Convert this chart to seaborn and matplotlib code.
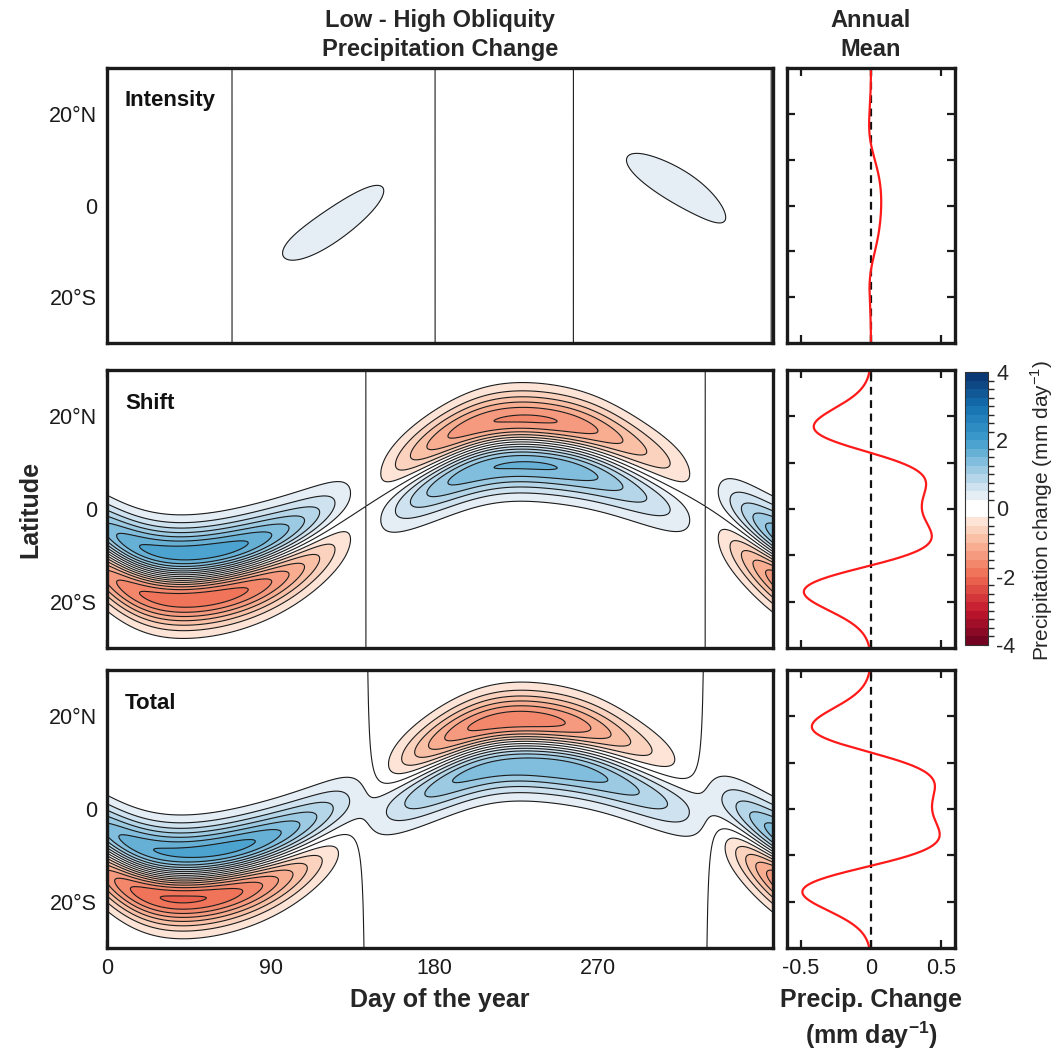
import numpy as np
import pandas as pd
import matplotlib
matplotlib.use("Agg")
import matplotlib.pyplot as plt
from matplotlib.colors import ListedColormap, BoundaryNorm, to_rgb
from matplotlib.cm import ScalarMappable
import seaborn as sns

# ---------------------------------------------------------------------------
# ITCZ description, sampled every 1/12 of a year (day of year)
# ---------------------------------------------------------------------------
sample_day = np.arange(12) * 365.0 / 12.0
# ITCZ centre latitude (deg) for the high- and low-obliquity climates
itcz_lat_high = np.array([-10.2, -15.3, -14.9, -11.3, -4.9, 3.2, 10.4, 14.8, 14.9, 11.9, 6.2, -1.0])
itcz_lat_low = np.array([-8.8, -13.3, -12.9, -9.8, -4.3, 2.9, 9.2, 13.2, 13.3, 10.7, 5.6, -0.8])
# peak ITCZ rain rate (mm/day) of the high-obliquity climate and low-minus-high change
itcz_peak_high = np.array([8.0, 8.0, 8.0, 8.0, 8.0, 8.0, 8.0, 8.0, 8.0, 8.0, 8.0, 8.0])
itcz_peak_change = np.array([0.0, -0.19, -0.07, 0.21, 0.35, 0.25, -0.02, -0.20, -0.11, 0.16, 0.34, 0.29])
itcz_halfwidth = 5.0  # Gaussian std of the rain band (deg latitude)

panel_names = ["Intensity", "Shift", "Total"]
lat_ticks = [-20, 0, 20]
lat_ticklabels = ["20\u00b0S", "0", "20\u00b0N"]
day_ticks = [0, 90, 180, 270]
day_ticks_top = [50, 100, 150, 200, 250, 300, 350]
mean_ticks = [-0.5, 0, 0.5]
mean_ticklabels = ["-0.5", "0", "0.5"]
cbar_ticks = [-4, -2, 0, 2, 4]
cbar_ticklabels = ["-4", "-2", "0", "2", "4"]

# diverging palette anchors (value, colour) used for the 0.25-step filled contours
palette_anchor_value = [-4.0, -3.0, -2.0, -1.0, -0.375, -0.2, 0.2, 0.375, 1.0, 2.0, 3.0, 4.0]
palette_anchor_color = ["#67001f", "#c3172d", "#ee6a50", "#f9b79a", "#fde4d6", "#ffffff",
                        "#ffffff", "#e6eef5", "#a9d0e5", "#3f9dcc", "#1470b0", "#08306b"]


def periodic(values, day):
    """Smooth periodic (trigonometric) curve through evenly spaced yearly samples."""
    n = len(values)
    c = np.fft.rfft(values) / n
    phase = 2 * np.pi * np.outer(day, np.arange(c.size)) / 365.0
    weight = np.full(c.size, 2.0)
    weight[0] = 1.0
    if n % 2 == 0:
        weight[-1] = 1.0
    return (weight[None, :] * c[None, :] * np.exp(1j * phase)).real.sum(axis=1)


day = np.linspace(0, 366, 733)
lat = np.linspace(-30, 30, 361)

phi_hi = periodic(itcz_lat_high, day)
phi_lo = periodic(itcz_lat_low, day)
amp_hi = periodic(itcz_peak_high, day)
d_amp = periodic(itcz_peak_change, day)
amp_lo = amp_hi + d_amp


def band(center):
    return np.exp(-(lat[:, None] - center[None, :]) ** 2 / (2 * itcz_halfwidth ** 2))


g_hi = band(phi_hi)
g_lo = band(phi_lo)
intensity = d_amp[None, :] * g_hi
shift = amp_lo[None, :] * (g_lo - g_hi)
total = intensity + shift
fields = [intensity, shift, total]

# annual means over one full year
in_year = day < 365
annual = [f[:, in_year].mean(axis=1) for f in fields]
profiles = [pd.DataFrame({"lat": lat, "change": a}) for a in annual]

# colour scale: 32 bands of 0.25 mm/day
levels = np.arange(-4.0, 4.0001, 0.25)
centers = 0.5 * (levels[:-1] + levels[1:])
anchor_rgb = np.array([to_rgb(c) for c in palette_anchor_color])
band_rgb = np.stack([np.interp(centers, palette_anchor_value, anchor_rgb[:, i]) for i in range(3)], axis=1)
cmap = ListedColormap(band_rgb)
norm = BoundaryNorm(levels, cmap.N)

# ---------------------------------------------------------------------------
sns.set_theme(style="ticks")
plt.rcParams["font.family"] = ["Liberation Sans", "DejaVu Sans"]
plt.rcParams["mathtext.fontset"] = "custom"
plt.rcParams["mathtext.rm"] = "Liberation Sans"
plt.rcParams["mathtext.bf"] = "Liberation Sans:bold"

W, H = 1057, 1054
fig = plt.figure(figsize=(W / 100, H / 100), dpi=100)
fig.patch.set_facecolor("white")


def place(x0, y0, x1, y1):
    return fig.add_axes([x0 / W, 1 - y1 / H, (x1 - x0) / W, (y1 - y0) / H])


rows = [(68, 343), (370, 648), (670, 948)]
map_axes = [place(107, r0, 773, r1) for r0, r1 in rows]
mean_axes = [place(787, r0, 955, r1) for r0, r1 in rows]
cax = place(965, 372, 988, 645)

tick_fs = 15.5
frame_lw = 2.4


def style_frame(ax):
    for s in ax.spines.values():
        s.set_linewidth(frame_lw)
        s.set_color("#1a1a1a")
    ax.tick_params(direction="in", length=6, width=1.6, top=True, right=True,
                   labelsize=tick_fs, colors="#1a1a1a", pad=7)


for i, ax in enumerate(map_axes):
    ax.contourf(day, lat, fields[i], levels=levels, cmap=cmap, norm=norm, extend="both")
    ax.contour(day, lat, fields[i], levels=levels, colors="#1c1c1c", linewidths=0.8,
               linestyles="solid")
    ax.set_xlim(0, 366)
    ax.set_ylim(-30, 30)
    ax.set_yticks(lat_ticks)
    ax.set_yticklabels(lat_ticklabels)
    if i == 0:
        ax.set_xticks(day_ticks_top)
        ax.set_xticklabels([])
    elif i == 1:
        ax.set_xticks(day_ticks)
        ax.set_xticklabels([])
    else:
        ax.set_xticks(day_ticks)
        ax.set_xticklabels([str(d) for d in day_ticks])
    style_frame(ax)
    ax.text(0.027, 0.88, panel_names[i], transform=ax.transAxes, fontsize=16,
            fontweight="bold", ha="left", va="center", color="#111111")

for i, ax in enumerate(mean_axes):
    ax.axvline(0, color="#111111", lw=1.6, ls=(0, (3.5, 2.5)))
    sns.lineplot(data=profiles[i], x="change", y="lat", orient="y", color="#ff1a1a",
                 lw=1.6, ax=ax, legend=False)
    ax.set_xlim(-0.6, 0.6)
    ax.set_ylim(-30, 30)
    ax.set_yticks([-20, -10, 0, 10, 20])
    ax.set_yticklabels([])
    ax.set_xticks(mean_ticks)
    if i < 2:
        ax.set_xticklabels([])
    else:
        ax.set_xticklabels(mean_ticklabels)
    ax.set_xlabel("")
    ax.set_ylabel("")
    style_frame(ax)

cb = fig.colorbar(ScalarMappable(norm=norm, cmap=cmap), cax=cax, ticks=cbar_ticks)
cb.ax.set_yticklabels(cbar_ticklabels)
cb.ax.tick_params(labelsize=tick_fs, length=3, width=0.8, direction="in", pad=6)
cb.outline.set_linewidth(0.8)
cb.outline.set_edgecolor("#333333")

# titles and labels
fig.text(440 / W, 1 - 35 / H, "Low - High Obliquity\nPrecipitation Change", ha="center",
         va="center", fontsize=17, fontweight="bold", linespacing=1.3)
fig.text(871 / W, 1 - 35 / H, "Annual\nMean", ha="center", va="center", fontsize=17,
         fontweight="bold", linespacing=1.3)
fig.text(30 / W, 1 - 509 / H, "Latitude", ha="center", va="center", rotation=90,
         fontsize=18, fontweight="bold")
fig.text(440 / W, 1 - 1000 / H, "Day of the year", ha="center", va="center",
         fontsize=18, fontweight="bold")
fig.text(871 / W, 1 - 1000 / H, "Precip. Change", ha="center", va="center",
         fontsize=18, fontweight="bold")
fig.text(871 / W, 1 - 1035 / H, r"(mm day$^{\mathbf{-1}}$)", ha="center", va="center",
         fontsize=18, fontweight="bold")
fig.text(1042 / W, 1 - 510 / H, r"Precipitation change (mm day$^{-1}$)", ha="center",
         va="center", rotation=90, fontsize=15)

fig.savefig("out.png", dpi=100)
